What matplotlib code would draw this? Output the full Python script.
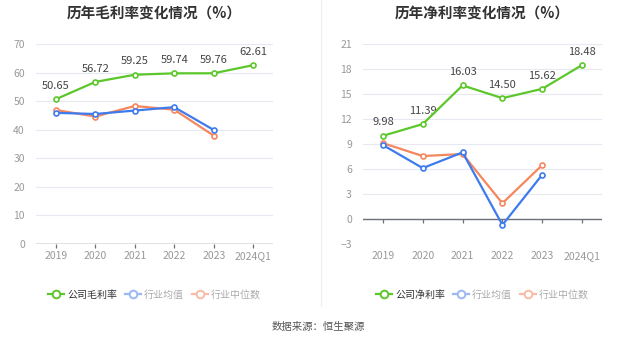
import matplotlib
matplotlib.use("Agg")
import matplotlib.pyplot as plt
from matplotlib.lines import Line2D
import numpy as np

plt.rcParams["font.family"] = ["Noto Sans CJK SC", "DejaVu Sans"]

periods = ["2019", "2020", "2021", "2022", "2023", "2024Q1"]

gross_company = [50.65, 56.72, 59.25, 59.74, 59.76, 62.61]
gross_ind_mean = [45.9, 45.5, 46.7, 47.9, 39.9]
gross_ind_median = [46.9, 44.6, 48.3, 47.0, 37.9]

net_company = [9.98, 11.39, 16.03, 14.50, 15.62, 18.48]
net_ind_mean = [8.87, 6.1, 7.99, -0.72, 5.31]
net_ind_median = [9.1, 7.55, 7.79, 1.88, 6.47]

GREEN = "#5cc72a"
BLUE = "#3d7bef"
ORANGE = "#f5875f"
BLUE_LT = "#9ab8f6"
ORANGE_LT = "#f9bba5"
GRID = "#e6e8f2"
TICK = "#999999"
AXIS = "#6e7079"


def legend_handle(color):
    return Line2D([], [], color=color, marker="o", markersize=5.5, markerfacecolor="white",
                  markeredgewidth=1.4, linewidth=1.6)


def draw_panel(ax, company, mean, median, ylim, step, title, company_label):
    x = np.arange(len(periods))
    xm = np.arange(len(mean))
    kw = dict(marker="o", markersize=3.6, markerfacecolor="white",
              markeredgewidth=1.2, linewidth=1.6, clip_on=False)
    ax.plot(xm, median, color=ORANGE, zorder=3, **kw)
    ax.plot(xm, mean, color=BLUE, zorder=4, **kw)
    ax.plot(x, company, color=GREEN, zorder=5, **kw)
    for xi, v in zip(x, company):
        ax.annotate(f"{v:.2f}", (xi, v), xytext=(0, 6), textcoords="offset points",
                    ha="center", va="bottom", fontsize=8, color="#444444")

    ax.set_xlim(-0.5, len(periods) - 0.5)
    ax.set_ylim(*ylim)
    ax.set_yticks(np.arange(ylim[0], ylim[1] + 0.1, step))
    ax.yaxis.grid(True, color=GRID, linewidth=0.8)
    ax.set_axisbelow(True)
    for s in ["top", "right", "left", "bottom"]:
        ax.spines[s].set_visible(False)
    ax.tick_params(axis="y", length=0, labelsize=7.5, labelcolor=TICK, pad=8)
    ax.set_xticks(x)
    ax.set_xticklabels(periods)
    ax.tick_params(axis="x", length=0, labelsize=7.5, labelcolor=TICK, pad=5)

    # category axis sits on the zero line, with short ticks under each category
    ax.axhline(0, color=AXIS, linewidth=1.0, zorder=2)
    ax.vlines(x, 0, -(ylim[1] - ylim[0]) * 0.022, color=AXIS, linewidth=0.9,
              clip_on=False, zorder=2)

    ax.set_title(title, fontsize=10.5, fontweight="bold", color="#333333", pad=18)

    handles = [legend_handle(GREEN), legend_handle(BLUE_LT), legend_handle(ORANGE_LT)]
    leg = ax.legend(handles, [company_label, "行业均值", "行业中位数"], loc="center",
                    bbox_to_anchor=(0.5, -0.255), ncol=3, frameon=False, fontsize=7.2,
                    handlelength=1.6, handletextpad=0.3, columnspacing=0.8)
    for t, c in zip(leg.get_texts(), ["#333333", "#aaaaaa", "#aaaaaa"]):
        t.set_color(c)


fig = plt.figure(figsize=(6.37, 3.44), dpi=100)
ax1 = fig.add_axes([36 / 637, 0.291, 237 / 637, 0.581])
ax2 = fig.add_axes([363 / 637, 0.291, 239 / 637, 0.581])

draw_panel(ax1, gross_company, gross_ind_mean, gross_ind_median, (0, 70), 10,
           "历年毛利率变化情况（%）", "公司毛利率")
draw_panel(ax2, net_company, net_ind_mean, net_ind_median, (-3, 21), 3,
           "历年净利率变化情况（%）", "公司净利率")

fig.add_artist(Line2D([321 / 637, 321 / 637], [0.11, 1.0], color="#eeeeee", linewidth=0.8))
fig.text(318 / 637, 1 - 327 / 344, "数据来源：恒生聚源", ha="center", va="center",
         fontsize=7.5, color="#555555")

fig.savefig("out.png", dpi=100, facecolor="white")
